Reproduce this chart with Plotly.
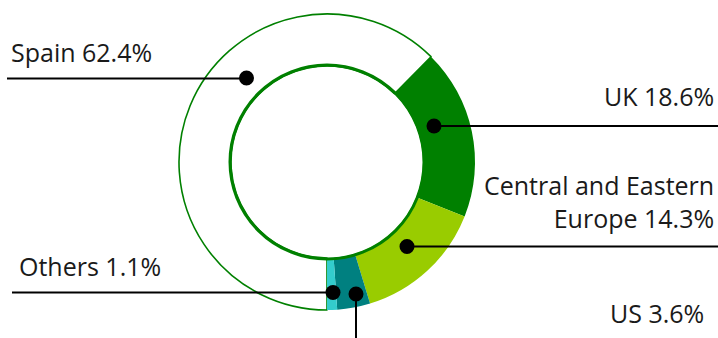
import plotly.graph_objects as go

# ---- data ----
regions = ["Spain", "UK", "Central and Eastern Europe", "US", "Others"]
shares = [62.4, 18.6, 14.3, 3.6, 1.1]
label_texts = ["Spain 62.4%", "UK 18.6%", "Central and Eastern<br>Europe 14.3%", "US 3.6%", "Others 1.1%"]

# ---- styles ----
slice_colors = ["#FFFFFF", "#008000", "#99CC00", "#008080", "#33CCCC"]
outline_colors = ["#008000", "#008000", "#99CC00", "#008080", "#33CCCC"]
outline_widths = [1.6, 0, 0, 0, 0]
GREEN = "#008000"
TEXT = "#1a1a1a"
FONT = "Open Sans"
FONT_SIZE = 25

W, H = 718, 338
CX, CY = 327, 162          # pixel centre of donut (from top-left)
R_OUT, R_IN = 148, 97

def px(x):
    return x / W

def py(y):
    return (H - y) / H

fig = go.Figure(go.Pie(
    labels=regions,
    values=shares,
    sort=False,
    direction="clockwise",
    rotation=180,
    hole=(R_IN - 1) / R_OUT,
    textinfo="none",
    hoverinfo="label+percent",
    marker=dict(colors=slice_colors, line=dict(color=outline_colors, width=outline_widths)),
    domain=dict(x=[px(CX - R_OUT), px(CX + R_OUT)], y=[py(CY + R_OUT), py(CY - R_OUT)]),
    showlegend=False,
))

shapes = []
# inner ring line
shapes.append(dict(type="circle", xref="paper", yref="paper",
                   x0=px(CX - R_IN), x1=px(CX + R_IN), y0=py(CY + R_IN), y1=py(CY - R_IN),
                   line=dict(color=GREEN, width=3), fillcolor="rgba(0,0,0,0)"))

# leader lines: (x0, y0, x1, y1) in pixels
leaders = [
    (7, 78.5, 246.5, 78.5),     # Spain
    (434, 126, 718, 126),       # UK
    (407, 246.5, 718, 246.5),   # CEE
    (356, 294, 356, 338),       # US
    (12, 292.5, 333, 292.5),    # Others
]
dots = [(246.5, 78), (434, 126), (407, 246.5), (356, 294), (333, 292.5)]
for x0, y0, x1, y1 in leaders:
    shapes.append(dict(type="line", xref="paper", yref="paper",
                       x0=px(x0), y0=py(y0), x1=px(x1), y1=py(y1),
                       line=dict(color="#000000", width=2)))
DR = 7.5
for x, y in dots:
    shapes.append(dict(type="circle", xref="paper", yref="paper",
                       x0=px(x - DR), x1=px(x + DR), y0=py(y + DR), y1=py(y - DR),
                       line=dict(color="#000000", width=0), fillcolor="#000000"))

# label positions: (x, y_center, xanchor)
label_pos = [
    (9, 52.5, "left"),
    (716, 96.5, "right"),
    (716, 201, "right"),
    (706, 312.5, "right"),
    (17, 266.3, "left"),
]
annotations = []
for txt, (x, y, xa) in zip(label_texts, label_pos):
    annotations.append(dict(text=txt, x=px(x), y=py(y), xref="paper", yref="paper",
                            xanchor=xa, yanchor="middle", align=xa, showarrow=False,
                            font=dict(family=FONT, size=FONT_SIZE, color=TEXT)))

fig.update_layout(
    width=W, height=H,
    margin=dict(l=0, r=0, t=0, b=0),
    paper_bgcolor="white", plot_bgcolor="white",
    shapes=shapes, annotations=annotations,
)

fig.write_html("out.html",
               config={"displayModeBar": False},
               post_script="document.body.style.margin='0px';document.body.style.overflow='hidden';")
